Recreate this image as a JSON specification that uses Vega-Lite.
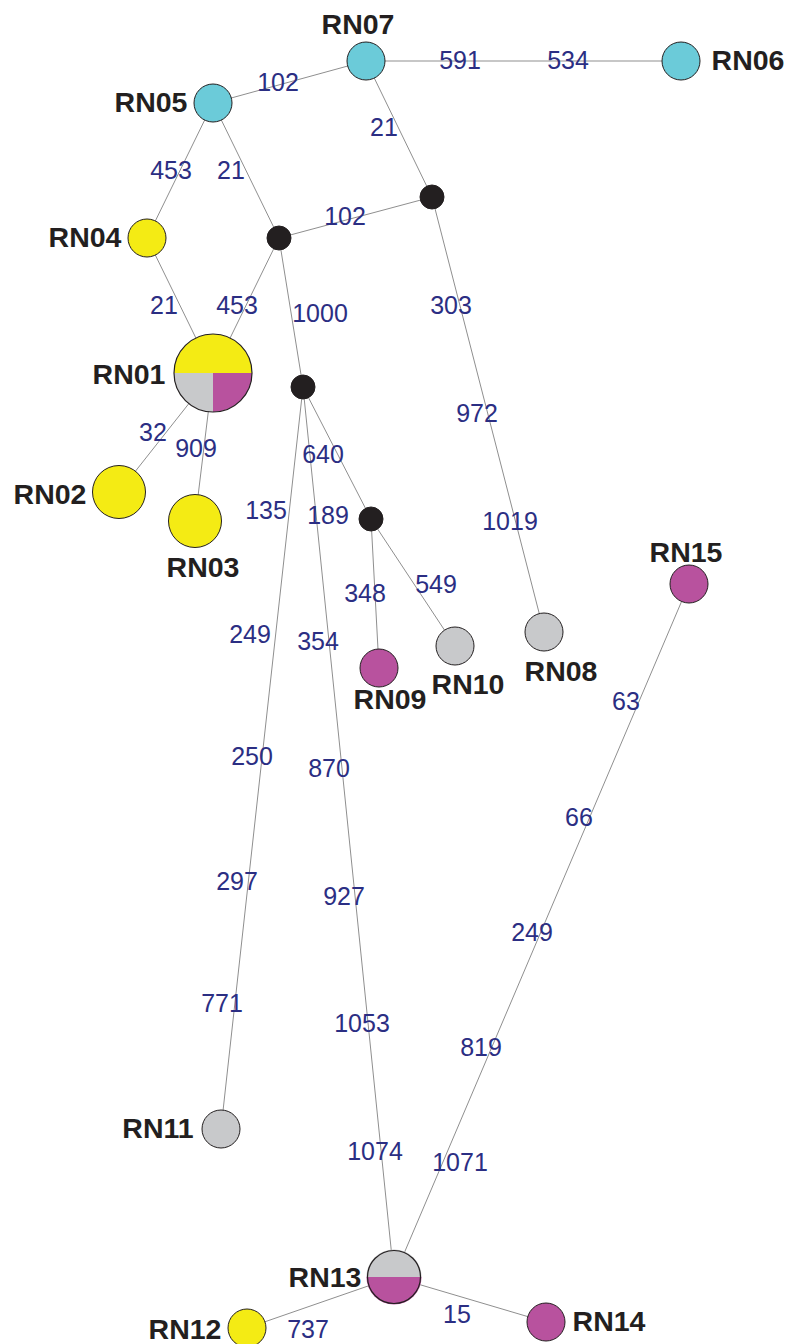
{
  "$schema": "https://vega.github.io/schema/vega-lite/v6.json",
  "width": 789,
  "height": 1344,
  "padding": 0,
  "autosize": "none",
  "background": "white",
  "config": {"view": {"stroke": null}},
  "datasets": {
    "nodes": [
      {"id": "RN01", "x": 213, "y": 373, "n": 4, "pop": "mixed", "label": "RN01", "lx": 129, "ly": 375},
      {"id": "RN02", "x": 119, "y": 492, "n": 2, "pop": "yellow", "label": "RN02", "lx": 50, "ly": 495},
      {"id": "RN03", "x": 195, "y": 521, "n": 2, "pop": "yellow", "label": "RN03", "lx": 203, "ly": 568},
      {"id": "RN04", "x": 147, "y": 238, "n": 1, "pop": "yellow", "label": "RN04", "lx": 85, "ly": 238},
      {"id": "RN05", "x": 213, "y": 103, "n": 1, "pop": "cyan", "label": "RN05", "lx": 151, "ly": 103},
      {"id": "RN06", "x": 681, "y": 61, "n": 1, "pop": "cyan", "label": "RN06", "lx": 748, "ly": 61},
      {"id": "RN07", "x": 366, "y": 61, "n": 1, "pop": "cyan", "label": "RN07", "lx": 358, "ly": 25},
      {"id": "RN08", "x": 544, "y": 632, "n": 1, "pop": "gray", "label": "RN08", "lx": 561, "ly": 672},
      {"id": "RN09", "x": 379, "y": 668, "n": 1, "pop": "magenta", "label": "RN09", "lx": 390, "ly": 700},
      {"id": "RN10", "x": 455, "y": 646, "n": 1, "pop": "gray", "label": "RN10", "lx": 468, "ly": 685},
      {"id": "RN11", "x": 221, "y": 1129, "n": 1, "pop": "gray", "label": "RN11", "lx": 158, "ly": 1129},
      {"id": "RN12", "x": 247, "y": 1328, "n": 1, "pop": "yellow", "label": "RN12", "lx": 185, "ly": 1330},
      {"id": "RN13", "x": 394, "y": 1277, "n": 2, "pop": "mixed", "label": "RN13", "lx": 325, "ly": 1278},
      {"id": "RN14", "x": 546, "y": 1322, "n": 1, "pop": "magenta", "label": "RN14", "lx": 609, "ly": 1322},
      {"id": "RN15", "x": 689, "y": 584, "n": 1, "pop": "magenta", "label": "RN15", "lx": 686, "ly": 553},
      {"id": "mv1", "x": 279, "y": 238, "n": 0, "pop": "median"},
      {"id": "mv2", "x": 432, "y": 197, "n": 0, "pop": "median"},
      {"id": "mv3", "x": 303, "y": 387, "n": 0, "pop": "median"},
      {"id": "mv4", "x": 371, "y": 519, "n": 0, "pop": "median"}
    ],
    "wedges": [
      {"id": "RN01", "x": 213, "y": 373, "n": 4, "pop": "yellow", "t0": -0.25, "t1": 0.25},
      {"id": "RN01", "x": 213, "y": 373, "n": 4, "pop": "magenta", "t0": 0.25, "t1": 0.5},
      {"id": "RN01", "x": 213, "y": 373, "n": 4, "pop": "gray", "t0": 0.5, "t1": 0.75},
      {"id": "RN13", "x": 394, "y": 1277, "n": 2, "pop": "gray", "t0": -0.25, "t1": 0.25},
      {"id": "RN13", "x": 394, "y": 1277, "n": 2, "pop": "magenta", "t0": 0.25, "t1": 0.75}
    ],
    "edges": [
      {"x1": 366, "y1": 61, "x2": 681, "y2": 61},
      {"x1": 366, "y1": 61, "x2": 213, "y2": 103},
      {"x1": 366, "y1": 61, "x2": 432, "y2": 197},
      {"x1": 213, "y1": 103, "x2": 147, "y2": 238},
      {"x1": 213, "y1": 103, "x2": 279, "y2": 238},
      {"x1": 279, "y1": 238, "x2": 432, "y2": 197},
      {"x1": 147, "y1": 238, "x2": 213, "y2": 373},
      {"x1": 279, "y1": 238, "x2": 213, "y2": 373},
      {"x1": 279, "y1": 238, "x2": 303, "y2": 387},
      {"x1": 213, "y1": 373, "x2": 119, "y2": 492},
      {"x1": 213, "y1": 373, "x2": 195, "y2": 521},
      {"x1": 303, "y1": 387, "x2": 371, "y2": 519},
      {"x1": 303, "y1": 387, "x2": 221, "y2": 1129},
      {"x1": 303, "y1": 387, "x2": 394, "y2": 1277},
      {"x1": 371, "y1": 519, "x2": 379, "y2": 668},
      {"x1": 371, "y1": 519, "x2": 455, "y2": 646},
      {"x1": 432, "y1": 197, "x2": 544, "y2": 632},
      {"x1": 689, "y1": 584, "x2": 394, "y2": 1277},
      {"x1": 394, "y1": 1277, "x2": 247, "y2": 1328},
      {"x1": 394, "y1": 1277, "x2": 546, "y2": 1322}
    ],
    "elabels": [
      {"t": "591", "x": 460, "y": 61},
      {"t": "534", "x": 568, "y": 61},
      {"t": "102", "x": 278, "y": 83},
      {"t": "21", "x": 384, "y": 128},
      {"t": "453", "x": 171, "y": 171},
      {"t": "21", "x": 231, "y": 171},
      {"t": "102", "x": 345, "y": 217},
      {"t": "21", "x": 164, "y": 306},
      {"t": "453", "x": 237, "y": 306},
      {"t": "1000", "x": 320, "y": 314},
      {"t": "303", "x": 451, "y": 306},
      {"t": "972", "x": 477, "y": 414},
      {"t": "1019", "x": 510, "y": 522},
      {"t": "32", "x": 153, "y": 433},
      {"t": "909", "x": 196, "y": 449},
      {"t": "640", "x": 323, "y": 455},
      {"t": "135", "x": 266, "y": 511},
      {"t": "189", "x": 328, "y": 516},
      {"t": "348", "x": 365, "y": 594},
      {"t": "549", "x": 436, "y": 585},
      {"t": "249", "x": 250, "y": 635},
      {"t": "354", "x": 318, "y": 642},
      {"t": "250", "x": 252, "y": 757},
      {"t": "870", "x": 329, "y": 769},
      {"t": "297", "x": 237, "y": 882},
      {"t": "927", "x": 344, "y": 897},
      {"t": "771", "x": 222, "y": 1004},
      {"t": "1053", "x": 362, "y": 1024},
      {"t": "1074", "x": 375, "y": 1152},
      {"t": "63", "x": 626, "y": 702},
      {"t": "66", "x": 579, "y": 818},
      {"t": "249", "x": 532, "y": 933},
      {"t": "819", "x": 481, "y": 1048},
      {"t": "1071", "x": 460, "y": 1163},
      {"t": "15", "x": 457, "y": 1315},
      {"t": "737", "x": 308, "y": 1330}
    ]
  },
  "layer": [
    {
      "data": {"name": "edges"},
      "mark": {"type": "rule", "color": "#8f8f8f", "strokeWidth": 1},
      "encoding": {
        "x": {"field": "x1", "type": "quantitative", "scale": {"domain": [0, 789], "nice": false, "zero": false}, "axis": null},
        "y": {"field": "y1", "type": "quantitative", "scale": {"domain": [0, 1344], "nice": false, "zero": false, "reverse": true}, "axis": null},
        "x2": {"field": "x2"},
        "y2": {"field": "y2"}
      }
    },
    {
      "data": {"name": "nodes"},
      "transform": [{"filter": "datum.pop != 'mixed'"}],
      "mark": {"type": "point", "shape": "circle", "filled": true, "stroke": "#231f20", "strokeWidth": 1, "opacity": 1},
      "encoding": {
        "x": {"field": "x", "type": "quantitative"},
        "y": {"field": "y", "type": "quantitative"},
        "size": {"field": "n", "type": "quantitative", "scale": {"type": "threshold", "domain": [0.5, 1.5, 3], "range": [576, 1444, 2809, 6084]}, "legend": null},
        "color": {"field": "pop", "type": "nominal", "scale": {"domain": ["yellow", "cyan", "gray", "magenta", "median"], "range": ["#f4eb14", "#6bcbd9", "#c8c9cb", "#b8529e", "#231f20"]}, "legend": null}
      }
    },
    {
      "data": {"name": "wedges"},
      "mark": {"type": "arc"},
      "encoding": {
        "x": {"field": "x", "type": "quantitative"},
        "y": {"field": "y", "type": "quantitative"},
        "theta": {"field": "t0", "type": "quantitative", "scale": {"type": "linear", "domain": [0, 1], "range": [0, 6.283185307], "zero": false}, "stack": null},
        "theta2": {"field": "t1"},
        "radius": {"field": "n", "type": "quantitative", "scale": {"type": "sqrt", "domain": [0, 4], "range": [0, 39], "zero": true}, "stack": null},
        "color": {"field": "pop", "type": "nominal", "legend": null}
      }
    },
    {
      "data": {"name": "nodes"},
      "transform": [{"filter": "datum.pop == 'mixed'"}],
      "mark": {"type": "point", "shape": "circle", "filled": false, "stroke": "#231f20", "strokeWidth": 1.2, "opacity": 1},
      "encoding": {
        "x": {"field": "x", "type": "quantitative"},
        "y": {"field": "y", "type": "quantitative"},
        "size": {"field": "n", "type": "quantitative", "scale": {"type": "threshold", "domain": [0.5, 1.5, 3], "range": [576, 1444, 2809, 6084]}, "legend": null}
      }
    },
    {
      "data": {"name": "elabels"},
      "mark": {"type": "text", "font": "Liberation Sans", "fontSize": 25, "color": "#2b2e83", "align": "center", "baseline": "middle"},
      "encoding": {
        "x": {"field": "x", "type": "quantitative"},
        "y": {"field": "y", "type": "quantitative"},
        "text": {"field": "t", "type": "nominal"}
      }
    },
    {
      "data": {"name": "nodes"},
      "transform": [{"filter": "isValid(datum.label)"}],
      "mark": {"type": "text", "font": "Liberation Sans", "fontSize": 28.5, "fontWeight": "bold", "color": "#231f20", "align": "center", "baseline": "middle"},
      "encoding": {
        "x": {"field": "lx", "type": "quantitative"},
        "y": {"field": "ly", "type": "quantitative"},
        "text": {"field": "label", "type": "nominal"}
      }
    }
  ]
}
